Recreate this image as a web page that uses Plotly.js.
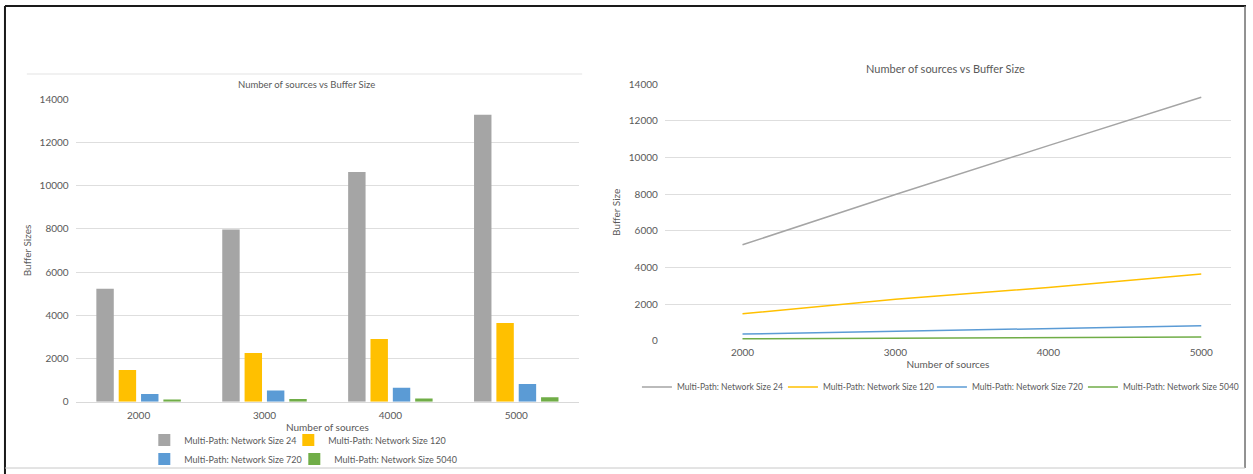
<!DOCTYPE html>
<html>
<head>
<meta charset="utf-8">
<script src="https://cdn.plot.ly/plotly-3.0.1.min.js"></script>
<style>
  html, body { margin: 0; padding: 0; background: #ffffff; }
  #chart { width: 1253px; height: 474px; }
</style>
</head>
<body>
<div id="chart"></div>
<script>
// Number of sources (x categories)
const sources = [2000, 3000, 4000, 5000];
const sourceLabels = ['2000', '3000', '4000', '5000'];

// Buffer sizes per network size
const seriesNames = [
  'Multi-Path: Network Size 24',
  'Multi-Path: Network Size 120',
  'Multi-Path: Network Size 720',
  'Multi-Path: Network Size 5040'
];
const size24 = [5230, 7970, 10640, 13280];
const size120 = [1470, 2260, 2900, 3640];
const size720 = [360, 520, 650, 815];
const size5040 = [100, 125, 150, 205];

const yTicks = [0, 2000, 4000, 6000, 8000, 10000, 12000, 14000];

const colors = ['#A5A5A5', '#FFC000', '#5B9BD5', '#70AD47'];
const series = [size24, size120, size720, size5040];

const W = 1253, H = 474;
const px = v => v / W;          // horizontal pixel -> paper
const py = v => 1 - v / H;      // vertical pixel -> paper

const FONT = 'Lato, "Liberation Sans", sans-serif';
const TXT = '#595959';
const GRID = '#DEDEDE';

// legend entry widths: column legend rows (2 per row) and line legend (one row)
const barLegendWidths = [99, 130, 105, 130];
const lineLegendWidths = [101, 104, 106, 125];

const traces = [];
// Clustered columns (left chart)
series.forEach((vals, i) => {
  traces.push({
    type: 'bar',
    x: sourceLabels,
    y: vals,
    name: seriesNames[i],
    marker: { color: colors[i] },
    xaxis: 'x', yaxis: 'y',
    legend: i < 2 ? 'legend' : 'legend2',
    legendwidth: barLegendWidths[i],
    hoverinfo: 'x+y+name'
  });
});
// Lines (right chart)
series.forEach((vals, i) => {
  traces.push({
    type: 'scatter',
    mode: 'lines',
    x: sources,
    y: vals,
    name: seriesNames[i],
    line: { color: colors[i], width: 1.5 },
    xaxis: 'x2', yaxis: 'y2',
    legend: 'legend3',
    legendwidth: lineLegendWidths[i]
  });
});

const tickFont = { family: FONT, size: 10, color: TXT };

const layout = {
  width: W, height: H,
  autosize: false,
  margin: { l: 0, r: 0, t: 0, b: 0 },
  paper_bgcolor: '#ffffff',
  plot_bgcolor: '#ffffff',
  font: { family: FONT, color: TXT },
  barmode: 'group',
  bargap: 0.29,
  bargroupgap: 0.22,
  xaxis: {
    type: 'category',
    domain: [px(76), px(582)],
    anchor: 'y',
    showgrid: false,
    showline: true, linecolor: '#D9D9D9', linewidth: 1,
    ticks: '',
    tickfont: tickFont,
    ticklabelstandoff: 4,
    title: { text: 'Number of sources', font: { family: FONT, size: 10, color: TXT }, standoff: 4 },
    fixedrange: true
  },
  yaxis: {
    domain: [py(401.7), py(99.3)],
    anchor: 'x',
    range: [0, 14000],
    tickvals: yTicks,
    ticktext: yTicks.map(String),
    showgrid: true, gridcolor: GRID, gridwidth: 1,
    zeroline: false,
    ticks: '',
    tickfont: tickFont,
    ticklabelstandoff: 6,
    title: { text: 'Buffer Sizes', font: { family: FONT, size: 10, color: TXT }, standoff: 6 },
    fixedrange: true
  },
  xaxis2: {
    domain: [px(668), px(1237)],
    anchor: 'y2',
    range: [1492, 5195],
    tickvals: sources,
    ticktext: sourceLabels,
    showgrid: false,
    showline: false,
    zeroline: false,
    ticks: '',
    tickfont: tickFont,
    ticklabelstandoff: 4,
    title: { text: 'Number of sources', font: { family: FONT, size: 10, color: TXT }, standoff: 3 },
    fixedrange: true
  },
  yaxis2: {
    domain: [py(340.7), py(84)],
    anchor: 'x2',
    range: [0, 14000],
    tickvals: yTicks,
    ticktext: yTicks.map(String),
    showgrid: true, gridcolor: GRID, gridwidth: 1,
    zeroline: false,
    ticks: '',
    tickfont: tickFont,
    ticklabelstandoff: 6,
    title: { text: 'Buffer Size', font: { family: FONT, size: 10, color: TXT }, standoff: 6 },
    fixedrange: true
  },
  legend: {
    orientation: 'h', x: px(145), xanchor: 'left', y: py(440), yanchor: 'middle',
    font: { family: FONT, size: 9, color: TXT }, bgcolor: 'rgba(0,0,0,0)', traceorder: 'normal'
  },
  legend2: {
    orientation: 'h', x: px(145), xanchor: 'left', y: py(459), yanchor: 'middle',
    font: { family: FONT, size: 9, color: TXT }, bgcolor: 'rgba(0,0,0,0)', traceorder: 'normal'
  },
  legend3: {
    orientation: 'h', x: px(640), xanchor: 'left', y: py(387), yanchor: 'middle',
    font: { family: FONT, size: 8.5, color: TXT }, bgcolor: 'rgba(0,0,0,0)', traceorder: 'normal'
  },
  annotations: [
    {
      text: 'Number of sources vs Buffer Size', xref: 'paper', yref: 'paper',
      x: px(308), y: py(84), xanchor: 'center', yanchor: 'middle', showarrow: false,
      font: { family: FONT, size: 9.5, color: TXT }
    },
    {
      text: 'Number of sources vs Buffer Size', xref: 'paper', yref: 'paper',
      x: px(950), y: py(68), xanchor: 'center', yanchor: 'middle', showarrow: false,
      font: { family: FONT, size: 11, color: TXT }
    }
  ],
  shapes: [
    // outer frame
    { type: 'line', xref: 'paper', yref: 'paper', x0: px(5), x1: px(5), y0: py(6), y1: py(474), line: { color: '#1a1a1a', width: 2 } },
    { type: 'line', xref: 'paper', yref: 'paper', x0: px(5), x1: px(1252), y0: py(6), y1: py(6), line: { color: '#1a1a1a', width: 2 } },
    { type: 'line', xref: 'paper', yref: 'paper', x0: px(1251), x1: px(1251), y0: py(6), y1: py(468), line: { color: '#6e6e6e', width: 1.5 } },
    { type: 'line', xref: 'paper', yref: 'paper', x0: px(5), x1: px(1251), y0: py(468), y1: py(468), line: { color: '#c8c8c8', width: 1 } },
    // left chart area top edge
    { type: 'line', xref: 'paper', yref: 'paper', x0: px(27), x1: px(585), y0: py(74), y1: py(74), line: { color: '#E3E3E3', width: 1 } }
  ],
  showlegend: true
};

Plotly.newPlot('chart', traces, layout, { displayModeBar: false, staticPlot: true });
</script>
</body>
</html>
